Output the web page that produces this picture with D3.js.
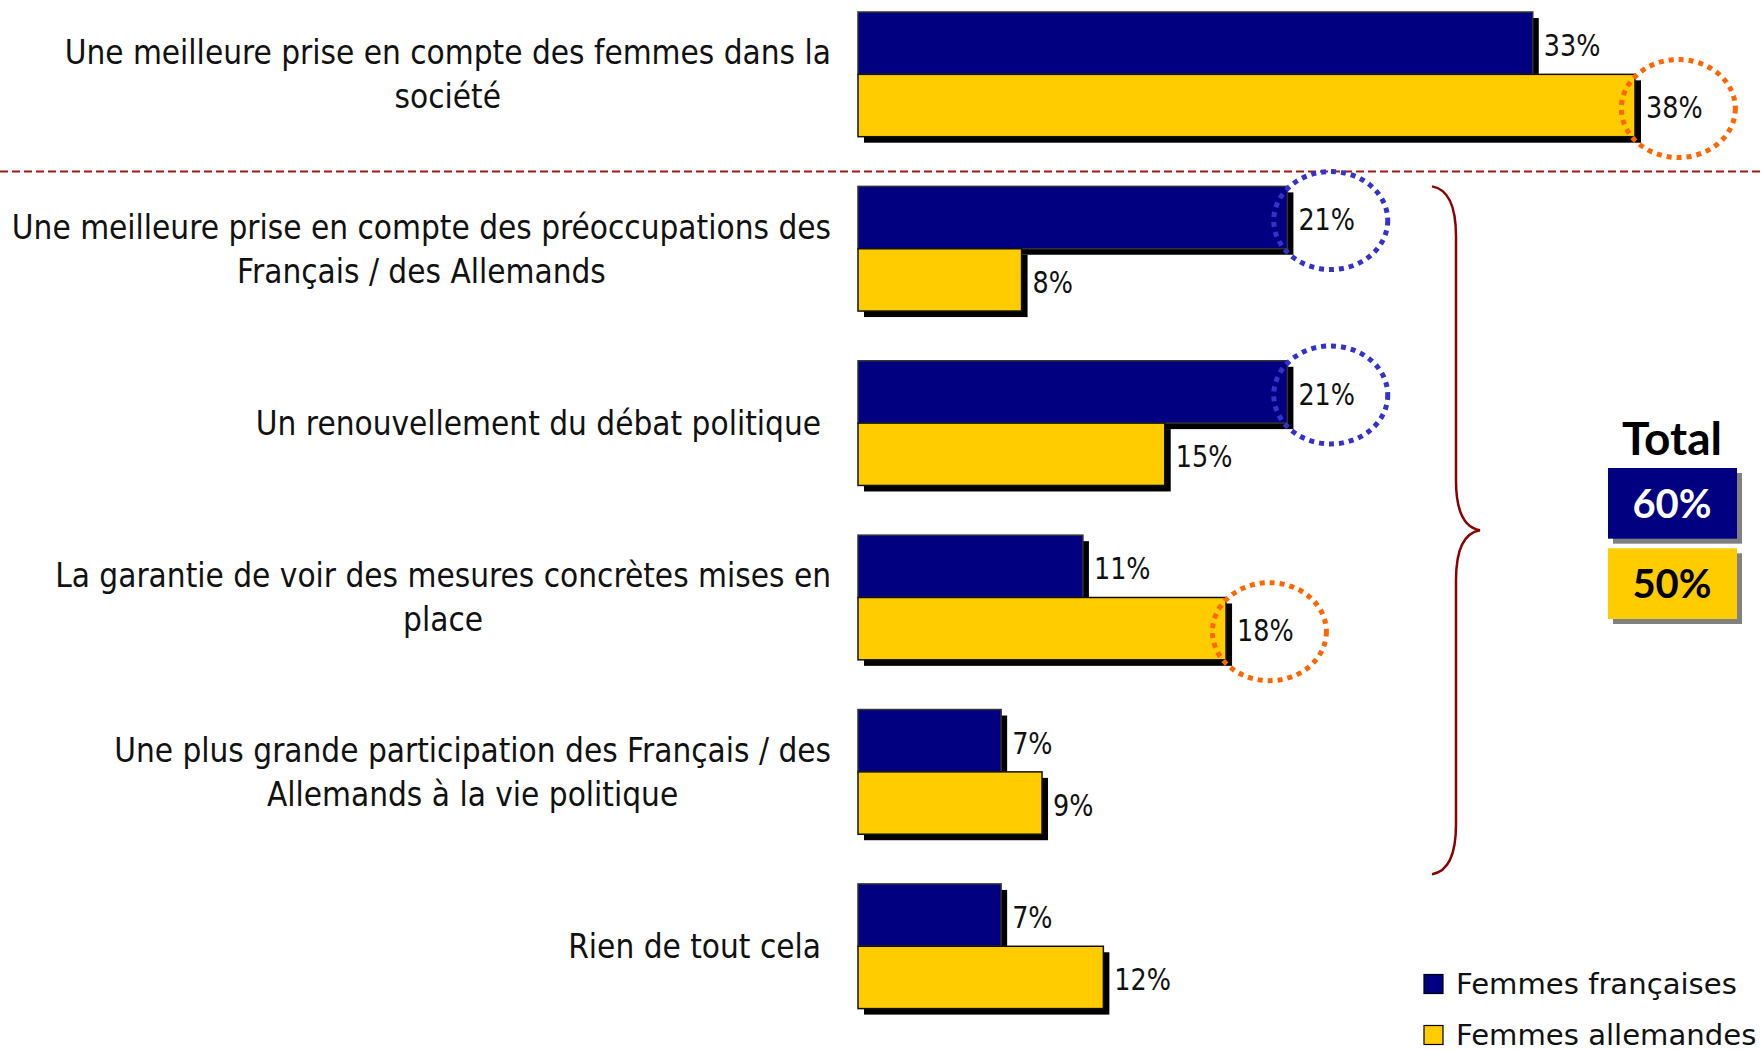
<!DOCTYPE html>
<html>
<head>
<meta charset="utf-8">
<script src="https://cdn.jsdelivr.net/npm/d3@7"></script>
<style>
  html, body { margin: 0; padding: 0; background: #fff; }
  svg { display: block; }
</style>
</head>
<body>
<svg id="chart" width="1761" height="1051"></svg>
<script>
// ---------- data ----------
const categories = [
  "Une meilleure prise en compte des femmes dans la|société",
  "Une meilleure prise en compte des préoccupations des|Français / des Allemands",
  "Un renouvellement du débat politique",
  "La garantie de voir des mesures concrètes mises en|place",
  "Une plus grande participation des Français / des|Allemands à la vie politique",
  "Rien de tout cela"
];
const seriesNames = ["Femmes françaises", "Femmes allemandes"];
const femmesFrancaises = [33, 21, 21, 11, 7, 7];
const femmesAllemandes = [38, 8, 15, 18, 9, 12];
const circledFrancaises = [false, true, true, false, false, false];
const circledAllemandes = [true, false, false, true, false, false];
const totalTitle = "Total";
const totals = [60, 50];
const bracedFrom = 1, bracedTo = 4;

// ---------- styles ----------
const NAVY = "#000080", YELLOW = "#FFCC00";
const BLUE_DOT = "#3333CC", ORANGE_DOT = "#FF6600";
const BROWN = "#8B0000";
const FONT = "'DejaVu Sans', sans-serif";
const SQUEEZE = 0.9;

const svg = d3.select("#chart");

const x = d3.scaleLinear().domain([0, 38]).range([858, 1635]);
const y = d3.scaleBand().domain(categories).range([12, 1008.6]).paddingInner(0.285).paddingOuter(0);
const sub = d3.scaleBand().domain([0, 1]).range([0, y.bandwidth()]);

const series = [
  { name: seriesNames[0], values: femmesFrancaises, circled: circledFrancaises, color: NAVY, dot: BLUE_DOT },
  { name: seriesNames[1], values: femmesAllemandes, circled: circledAllemandes, color: YELLOW, dot: ORANGE_DOT }
];

function squeeze(sel, k) {
  sel.each(function () {
    const w = this.getComputedTextLength();
    d3.select(this).attr("textLength", w * k).attr("lengthAdjust", "spacingAndGlyphs");
  });
}

// separator dashed line under first category
const sepY = y(categories[1]) - 15;
svg.append("line")
  .attr("x1", 0).attr("x2", 1761)
  .attr("y1", sepY).attr("y2", sepY)
  .attr("stroke", "#A01818").attr("stroke-width", 2)
  .attr("stroke-dasharray", "8,4");

// flatten bars
const bars = [];
categories.forEach((c, i) => {
  series.forEach((s, j) => {
    bars.push({ cat: c, i, j, v: s.values[i], s });
  });
});

// shadows
svg.append("g").selectAll("rect").data(bars).join("rect")
  .attr("x", d => x(0) + 6)
  .attr("y", d => y(d.cat) + sub(d.j) + 6)
  .attr("width", d => x(d.v) - x(0))
  .attr("height", sub.bandwidth())
  .attr("fill", "#000");

// bars
svg.append("g").selectAll("rect").data(bars).join("rect")
  .attr("x", x(0))
  .attr("y", d => y(d.cat) + sub(d.j))
  .attr("width", d => x(d.v) - x(0))
  .attr("height", sub.bandwidth())
  .attr("fill", d => d.s.color)
  .attr("stroke", d => d.j === 0 ? "#333" : "#111")
  .attr("stroke-width", 1.5);

// value labels
const valueLabels = svg.append("g").selectAll("text").data(bars).join("text")
  .attr("x", d => x(d.v) + 11)
  .attr("y", d => y(d.cat) + sub(d.j) + sub.bandwidth() / 2 + 2)
  .attr("dy", "0.36em")
  .attr("font-family", FONT)
  .attr("font-size", 30)
  .attr("fill", "#111")
  .text(d => d.v + "%");
squeeze(valueLabels, 0.85);

// dotted ellipses around highlighted labels
const circ = svg.append("g");
valueLabels.each(function (d) {
  if (!d.s.circled[d.i]) return;
  const bb = this.getBBox();
  circ.append("ellipse")
    .attr("cx", bb.x + bb.width / 2 + 4)
    .attr("cy", y(d.cat) + sub(d.j) + sub.bandwidth() / 2 + 3)
    .attr("rx", 57).attr("ry", 49)
    .attr("fill", "none")
    .attr("stroke", d.s.dot)
    .attr("stroke-width", 5)
    .attr("stroke-dasharray", "5,5");
});

// category labels
const catG = svg.append("g");
categories.forEach(c => {
  const lines = c.split("|");
  const cy = y(c) + y.bandwidth() / 2;
  const lh = 44;
  const g = catG.append("g");
  const texts = lines.map((ln, k) => g.append("text")
    .attr("y", cy + (k - (lines.length - 1) / 2) * lh)
    .attr("dy", "0.36em")
    .attr("text-anchor", "middle")
    .attr("font-family", FONT)
    .attr("font-size", 33)
    .attr("fill", "#111")
    .text(ln));
  let maxW = 0;
  texts.forEach(t => {
    const w = t.node().getComputedTextLength() * SQUEEZE;
    t.attr("textLength", w).attr("lengthAdjust", "spacingAndGlyphs");
    maxW = Math.max(maxW, w);
  });
  const right = lines.length > 1 ? 831 : 821;
  texts.forEach(t => t.attr("x", right - maxW / 2));
});

// brace
const bTop = y(categories[bracedFrom]);
const bBot = y(categories[bracedTo]) + y.bandwidth() + 40;
const bMid = (bTop + bBot) / 2;
const bx0 = 1432, bx1 = 1456, bx2 = 1480;
const bp = d3.path();
bp.moveTo(bx0, bTop);
bp.quadraticCurveTo(bx1, bTop + 4, bx1, bTop + 50);
bp.lineTo(bx1, bMid - 50);
bp.quadraticCurveTo(bx1, bMid - 4, bx2, bMid);
bp.quadraticCurveTo(bx1, bMid + 4, bx1, bMid + 50);
bp.lineTo(bx1, bBot - 50);
bp.quadraticCurveTo(bx1, bBot - 4, bx0, bBot);
svg.append("path").attr("d", bp.toString())
  .attr("fill", "none").attr("stroke", BROWN).attr("stroke-width", 2.5);

// total boxes
const tg = svg.append("g");
tg.append("text")
  .attr("x", 1672).attr("y", 455)
  .attr("text-anchor", "middle")
  .attr("font-family", "Lato, sans-serif")
  .attr("font-weight", "bold")
  .attr("font-size", 46)
  .attr("fill", "#000")
  .text(totalTitle);
const boxY = d3.scaleBand().domain([0, 1]).range([468, 619]).paddingInner(0.12);
totals.forEach((t, k) => {
  tg.append("rect")
    .attr("x", 1608 + 5).attr("y", boxY(k) + 5)
    .attr("width", 129).attr("height", boxY.bandwidth())
    .attr("fill", "#808080");
  tg.append("rect")
    .attr("x", 1608).attr("y", boxY(k))
    .attr("width", 129).attr("height", boxY.bandwidth())
    .attr("fill", series[k].color);
  tg.append("text")
    .attr("x", 1672).attr("y", boxY(k) + boxY.bandwidth() / 2)
    .attr("dy", "0.36em")
    .attr("text-anchor", "middle")
    .attr("font-family", "Lato, sans-serif")
    .attr("font-weight", "bold")
    .attr("font-size", 40)
    .attr("fill", k === 0 ? "#fff" : "#000")
    .text(t + "%");
});

// legend
const lg = svg.append("g");
series.forEach((s, k) => {
  const cy = 984 + k * 51;
  lg.append("rect")
    .attr("x", 1424).attr("y", cy - 9.5)
    .attr("width", 19).attr("height", 19)
    .attr("fill", s.color).attr("stroke", "#000").attr("stroke-width", 1.2);
  const t = lg.append("text")
    .attr("x", 1456).attr("y", cy)
    .attr("dy", "0.36em")
    .attr("font-family", FONT)
    .attr("font-size", 28)
    .attr("fill", "#111")
    .text(s.name);
  t.each(function () {
    const w = this.getComputedTextLength();
    d3.select(this).attr("textLength", Math.min(w * 1.04, 1757 - 1456)).attr("lengthAdjust", "spacingAndGlyphs");
  });
});
</script>
</body>
</html>
